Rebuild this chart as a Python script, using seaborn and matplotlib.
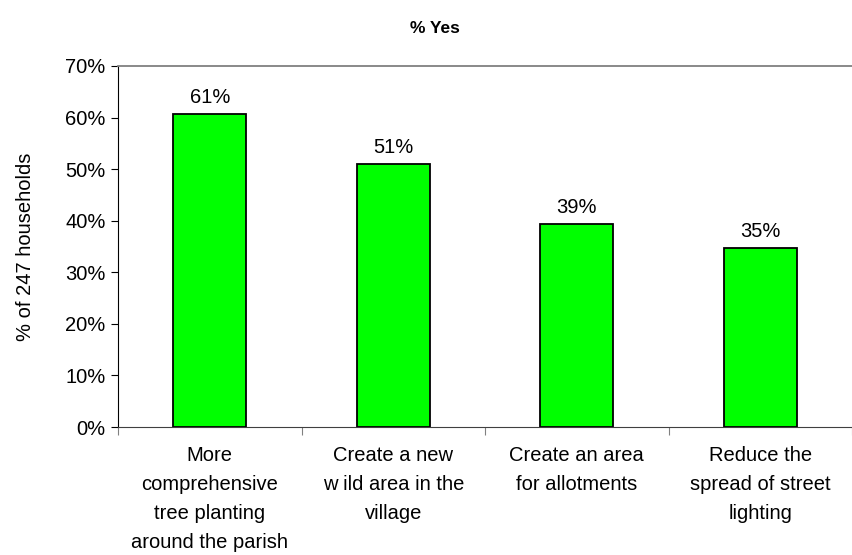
import matplotlib
matplotlib.use('Agg')
import matplotlib.pyplot as plt
import numpy as np
import pandas as pd
import seaborn as sns

categories = ['More\ncomprehensive\ntree planting\naround the parish',
              'Create a new\nw ild area in the\nvillage',
              'Create an area\nfor allotments',
              'Reduce the\nspread of street\nlighting']
pct_yes = [60.7, 51.0, 39.3, 34.8]
bar_labels = ['61%', '51%', '39%', '35%']
yticks = [0, 10, 20, 30, 40, 50, 60, 70]

sns.set_style('white')
plt.rcParams['font.family'] = ['Liberation Sans', 'DejaVu Sans']
plt.rcParams['text.color'] = 'black'
plt.rcParams['xtick.color'] = 'black'
plt.rcParams['ytick.color'] = 'black'
plt.rcParams['axes.labelcolor'] = 'black'

fs = 14.5

df = pd.DataFrame({'cat': categories, 'val': pct_yes})

fig = plt.figure(figsize=(8.52, 5.55), dpi=100)
ax = fig.add_axes([0.1385, 0.2306, 0.8615, 0.6505])

sns.barplot(data=df, x='cat', y='val', color='#00ff00', saturation=1,
            edgecolor='black', linewidth=1.3, width=0.4, ax=ax)

for i, lab in enumerate(bar_labels):
    ax.annotate(lab, (i, pct_yes[i]), xytext=(0, 5), textcoords='offset points',
                ha='center', va='bottom', fontsize=fs)

ax.set_ylim(0, 70)
ax.set_xlim(-0.5, 3.5)
ax.set_yticks(yticks)
ax.set_yticklabels(['{}%'.format(t) for t in yticks], fontsize=fs)

# labels sit on minor ticks, major ticks mark the category boundaries
ax.set_xticks(np.arange(-0.5, 4.0, 1.0))
ax.set_xticklabels([])
ax.set_xticks(np.arange(4), minor=True)
ax.set_xticklabels(categories, minor=True, fontsize=fs, linespacing=1.65)
ax.tick_params(axis='x', which='minor', length=0, pad=14)
ax.tick_params(axis='x', which='major', length=6, color='#808080', direction='out', bottom=True)
ax.tick_params(axis='y', length=5, color='black', direction='out', left=True, pad=4)

ax.spines['right'].set_visible(False)
ax.spines['top'].set_color('#808080')
ax.spines['top'].set_linewidth(1.3)
ax.spines['left'].set_color('black')
ax.spines['bottom'].set_color('#404040')

ax.set_xlabel('')
ax.set_ylabel('% of 247 households', fontsize=fs, labelpad=22)
fig.suptitle('% Yes', fontsize=12.5, fontweight='bold', x=0.51, y=0.962)

fig.savefig('out.png', dpi=100)
